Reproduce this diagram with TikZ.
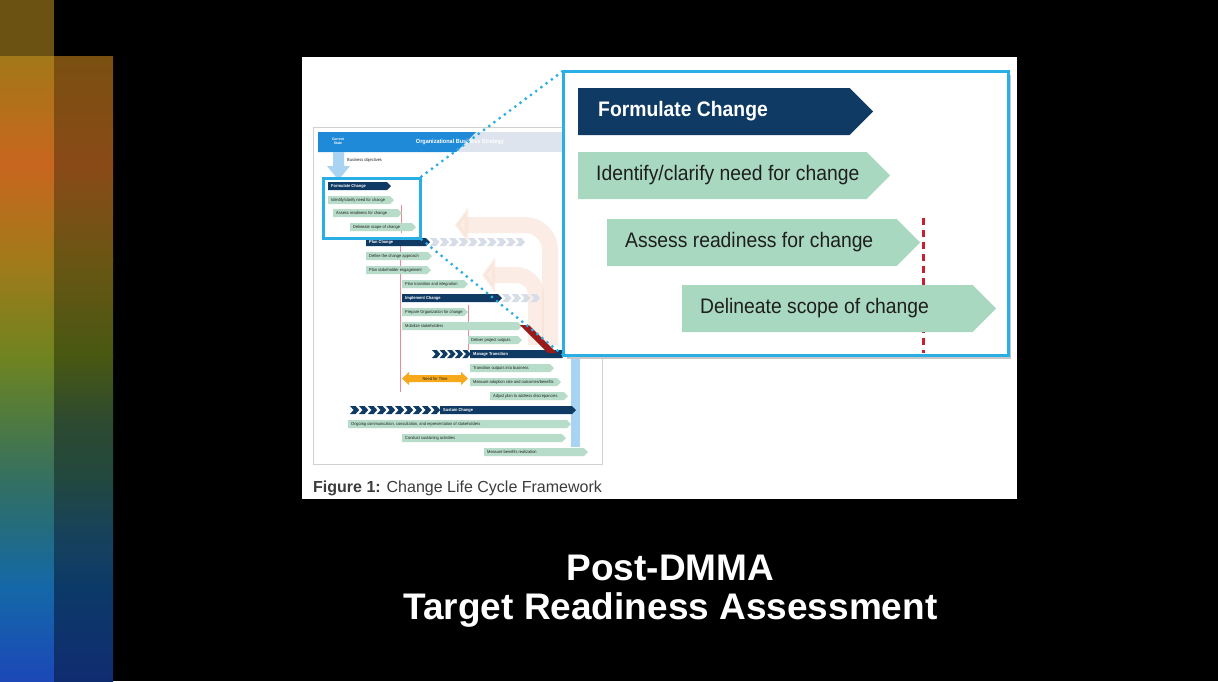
\documentclass[tikz,border=0pt]{standalone}
\usepackage{fontspec}
\setmainfont{Liberation Sans}
\newfontfamily\condfont[FakeStretch=0.92]{Liberation Sans}
\usetikzlibrary{arrows.meta,calc}
\definecolor{slidenavy}{HTML}{0F3A63}
\definecolor{slidemint}{HTML}{A8D8C0}
\definecolor{thumbmint}{HTML}{B7DDCA}
\definecolor{slideink}{HTML}{1E1E1E}
\definecolor{slidecyan}{HTML}{29AEE6}
\definecolor{slidered}{HTML}{C8202E}
\definecolor{slidepink}{HTML}{E88A98}
\definecolor{slideorange}{HTML}{F7A81B}
\definecolor{slidesky}{HTML}{A9D3F3}
\definecolor{headblue}{HTML}{1F8AD8}
\definecolor{headgray}{HTML}{DDE4EE}
\definecolor{palechev}{HTML}{D6DDE8}
\definecolor{paleflow}{HTML}{F8DCCD}
\definecolor{framegray}{HTML}{D0D0D0}
\definecolor{captiongray}{HTML}{3C3C3C}
\definecolor{darkred}{HTML}{9A1A1A}
% left colour bars
\definecolor{bartop}{HTML}{6B5212}
\definecolor{a1}{HTML}{A37818}\definecolor{b1}{HTML}{7A5010}
\definecolor{a2}{HTML}{C8661E}\definecolor{b2}{HTML}{8A4A18}
\definecolor{a3}{HTML}{A27A1A}\definecolor{b3}{HTML}{6A5614}
\definecolor{a4}{HTML}{6F8420}\definecolor{b4}{HTML}{485812}
\definecolor{a5}{HTML}{4F7A40}\definecolor{b5}{HTML}{2E4A30}
\definecolor{a6}{HTML}{357060}\definecolor{b6}{HTML}{22483E}
\definecolor{a7}{HTML}{236C80}\definecolor{b7}{HTML}{18425A}
\definecolor{a8}{HTML}{1468A8}\definecolor{b8}{HTML}{0C3A68}
\definecolor{a9}{HTML}{1C48B8}\definecolor{b9}{HTML}{102C70}
\tikzset{
  bigtext/.style={anchor=west, inner xsep=18pt, inner ysep=0pt, text=slideink,
    font=\condfont\fontsize{21}{24}\selectfont},
  bighead/.style={bigtext, inner xsep=20pt, text=white,
    font=\condfont\bfseries\fontsize{21}{24}\selectfont},
  thumbtext/.style={anchor=west, inner xsep=3pt, inner ysep=0pt, text=slideink,
    font=\condfont\fontsize{4.3}{5}\selectfont},
  thumbhead/.style={thumbtext, text=white, font=\condfont\bfseries\fontsize{4.3}{5}\selectfont},
  zoomframe/.style={draw=slidecyan, line width=3pt, fill=white},
  hlframe/.style={draw=slidecyan, line width=3pt},
  dotlink/.style={slidecyan, line width=3.2pt, line cap=round, dash pattern=on 0pt off 6.5pt},
  cutline/.style={slidered, line width=3pt, dash pattern=on 7pt off 5pt},
  thinmark/.style={slidepink, line width=0.6pt},
  titletext/.style={text=white, align=center, font=\bfseries\fontsize{37}{39}\selectfont},
  flow/.style={paleflow, opacity=0.5, line width=16pt, -{Triangle[length=13pt, width=34pt]}}
}
% step bar: name, fill, text style, left x, tip x, top y, height, text
\newcommand{\stepbar}[8]{%
  \fill[#2] (#4,#6) -- ({#5-#7/2},#6) -- (#5,{#6+#7/2}) -- ({#5-#7/2},{#6+#7}) -- (#4,{#6+#7}) -- cycle;
  \node[#3] (#1) at (#4,{#6+#7/2}) {#8};
}
% chevron run: fill, start x, count, step, top y, height
\newcommand{\chevrons}[6]{%
  \foreach \k in {1,...,#3}{
    \fill[#1] ({#2+(\k-1)*#4},#5) -- ++({#4*0.62},0) -- ++({#6*0.45},{#6/2})
      -- ++({-#6*0.45},{#6/2}) -- ++({-#4*0.62},0) -- ++({#6*0.45},{-#6/2}) -- cycle;
  }
}

\begin{document}
\begin{tikzpicture}[x=1pt,y=-1pt]
\useasboundingbox (0,0) rectangle (1218,681);
\fill[black] (0,0) rectangle (1218,681);

% colour bars on the left
\fill[bartop] (0,0) rectangle (54,57);
\foreach \ya/\yb/\i/\j in {57/165/1/2,165/260/2/3,260/357/3/4,357/420/4/5,420/478/5/6,478/530/6/7,530/587/7/8,587/681/8/9}{
  \shade[top color=a\i, bottom color=a\j] (0,\ya-0.3) rectangle (54,\yb+0.3);
  \shade[top color=b\i, bottom color=b\j] (54,\ya-0.3) rectangle (113,\yb+0.3);
}

% figure panel
\fill[white] (302,57) rectangle (1017,499);
\draw[framegray, line width=0.8pt] (313,127) rectangle (602,464);
\node[anchor=base west, inner sep=0pt, text=captiongray, font=\fontsize{16}{18}\selectfont]
  (caption) at (313,492) {\textbf{Figure 1:} Change Life Cycle Framework};

% thumbnail header
\fill[headgray] (318,132) rectangle (565,152);
\fill[headblue] (318,132) -- (476,132) -- (456,152) -- (318,152) -- cycle;
\fill[slidesky] (571,132) rectangle (580,447);
\node[thumbhead, anchor=center, align=center, font=\condfont\bfseries\fontsize{3.6}{4}\selectfont]
  (current) at (338,141) {Current\\State};
\node[anchor=center, inner sep=0pt, text=white, font=\condfont\bfseries\fontsize{6}{7}\selectfont]
  (orgstrat) at (460,142) {Organizational Business Strategy};
\fill[slidesky] (333,152) -- (344,152) -- (344,166) -- (350,166) -- (338.5,180) -- (327,166) -- (333,166) -- cycle;
\node[thumbtext] (bizobj) at (344,160) {Business objectives};

% pale flow arrows behind the rows
\coordinate (flowa) at (550,345);
\coordinate (flowb) at (536,345);
\draw[flow] (flowa) -- (550,250) arc[start angle=0, end angle=-90, radius=25] -- (455,225);
\draw[flow] (flowb) -- (536,295) arc[start angle=0, end angle=-90, radius=20] -- (482,275);

% thumbnail marks
\draw[thinmark] (401,205) -- (401,233);
\draw[thinmark] (400,245) -- (400,392);
\draw[thinmark] (468,305) -- (468,350);

% thumbnail rows
\chevrons{palechev}{430}{10}{9.5}{238}{8}
\chevrons{palechev}{502}{4}{9.5}{294}{8}
\chevrons{slidenavy}{432}{5}{7.6}{350}{8}
\chevrons{slidenavy}{350}{10}{9}{406}{8}
\foreach \nm/\col/\sty/\xa/\xb/\yy/\txt in {
  tfc/slidenavy/thumbhead/328/391/182/{Formulate Change},
  tid/thumbmint/thumbtext/328/394/196/{Identify/clarify need for change},
  tas/thumbmint/thumbtext/333/402/209/{Assess readiness for change},
  tds/thumbmint/thumbtext/350/416/223/{Delineate scope of change},
  tpc/slidenavy/thumbhead/366/430/238/{Plan Change},
  tca/thumbmint/thumbtext/366/432/252/{Define the change approach},
  tse/thumbmint/thumbtext/366/431/266/{Plan stakeholder engagement},
  tti/thumbmint/thumbtext/402/468/280/{Plan transition and integration},
  tic/slidenavy/thumbhead/402/502/294/{Implement Change},
  tpo/thumbmint/thumbtext/402/468/308/{Prepare Organization for change},
  tms/thumbmint/thumbtext/402/522/322/{Mobilize stakeholders},
  tdp/thumbmint/thumbtext/468/522/336/{Deliver project outputs},
  tmt/slidenavy/thumbhead/470/566/350/{Manage Transition},
  tto/thumbmint/thumbtext/470/554/364/{Transition outputs into business},
  tma/thumbmint/thumbtext/470/561/378/{Measure adoption rate and outcomes/benefits},
  tad/thumbmint/thumbtext/490/568/392/{Adjust plan to address discrepancies},
  tsc/slidenavy/thumbhead/440/576/406/{Sustain Change},
  toc/thumbmint/thumbtext/348/571/420/{Ongoing communication, consultation, and representation of stakeholders},
  tcs/thumbmint/thumbtext/402/566/434/{Conduct sustaining activities},
  tmb/thumbmint/thumbtext/484/588/448/{Measure benefits realization}}{
  \stepbar{\nm}{\col}{\sty}{\xa}{\xb}{\yy}{8}{\txt}
}
\fill[darkred] (520,325) -- (529,325) -- (557,353) -- (548,353) -- cycle;
\fill[slideorange] (402,378.5) -- (409,372) -- (409,375) -- (461,375) -- (461,372) -- (468,378.5)
  -- (461,385) -- (461,382) -- (409,382) -- (409,385) -- cycle;
\node[thumbtext, anchor=center, inner xsep=0pt] (needtime) at (435,378.5) {Need for Time};

% highlight and zoom call-out
\node[hlframe, minimum width=97pt, minimum height=60pt, inner sep=0pt] (hl) at (371.5,208) {};
\draw[dotlink] (hl.north east) -- (563,71) coordinate (zoomnw);
\draw[dotlink] (hl.south east) -- (563,355) coordinate (zoomsw);
\fill[black!22] (567,75) rectangle (1011,359);
\node[zoomframe, minimum width=445pt, minimum height=284pt, inner sep=0pt] (zoom) at (785.5,213) {};

\stepbar{fc}{slidenavy}{bighead}{578}{873}{88}{47}{Formulate Change}
\stepbar{idn}{slidemint}{bigtext}{578}{890}{152}{47}{Identify/clarify need for change}
\stepbar{asr}{slidemint}{bigtext}{607}{920}{219}{47}{Assess readiness for change}
\coordinate (cuttop) at (923,218);
\coordinate (cutbot) at (923,353);
\draw[cutline] (cuttop) -- (cutbot);
\stepbar{dsc}{slidemint}{bigtext}{682}{996}{285}{47}{Delineate scope of change}

% slide title
\node[titletext] (title) at (670.5,591) {Post-DMMA\\Target Readiness Assessment};
\end{tikzpicture}
\end{document}
